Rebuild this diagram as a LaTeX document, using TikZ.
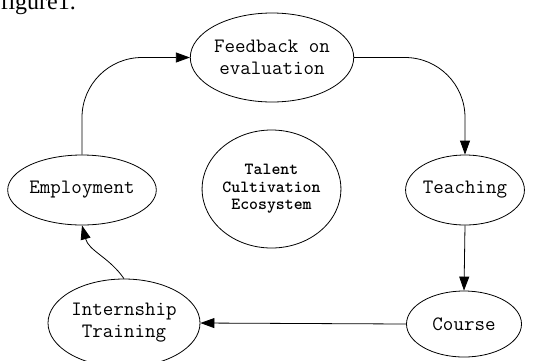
\documentclass[tikz,border=0pt]{standalone}
\usepackage{fontspec}
\newfontfamily\captfont{Liberation Serif}
\usetikzlibrary{shapes.geometric,arrows.meta,calc}

\begin{document}
\begin{tikzpicture}[x=1pt,y=-1pt,
		stage/.style={draw,ellipse,inner sep=0pt,line width=0.8pt,align=center,
			font=\ttfamily\fontsize{20.4}{22}\selectfont},
		flow/.style={line width=0.8pt,-{Triangle[length=14pt,width=10pt]}}]
	\useasboundingbox (0,0) rectangle (548,360);
	
	\node[anchor=base west,font=\captfont\fontsize{24}{24}\selectfont] (cap) at (-3,9.5) {figure1.};
	
	\node[stage,minimum width=152pt,minimum height=89pt] (feed) at (272,57.5) {Feedback on\\evaluation};
	\node[stage,minimum width=148pt,minimum height=70pt] (emp) at (82,190) {Employment};
	\node[stage,minimum width=116pt,minimum height=70pt] (teach) at (465,190) {Teaching};
	\node[stage,minimum width=115pt,minimum height=66pt] (course) at (464,324) {Course};
	\node[stage,minimum width=152pt,minimum height=88pt] (intern) at (124,323) {Internship\\Training};
	\node[stage,minimum width=137pt,minimum height=118pt,
		font=\ttfamily\bfseries\fontsize{17}{17.5}\selectfont] (eco) at (271.5,189) {Talent\\Cultivation\\Ecosystem};
	
	\draw[flow,rounded corners=60pt] (emp.north) |- (feed.west);
	\draw[flow,rounded corners=60pt] (feed.east) -| (teach.north);
	\draw[flow] (teach.south) -- (course.north);
	\draw[flow] (course.west) -- (intern.east);
	\draw[flow] (intern.north) to[out=125,in=-75] (emp.south);
\end{tikzpicture}
\end{document}
